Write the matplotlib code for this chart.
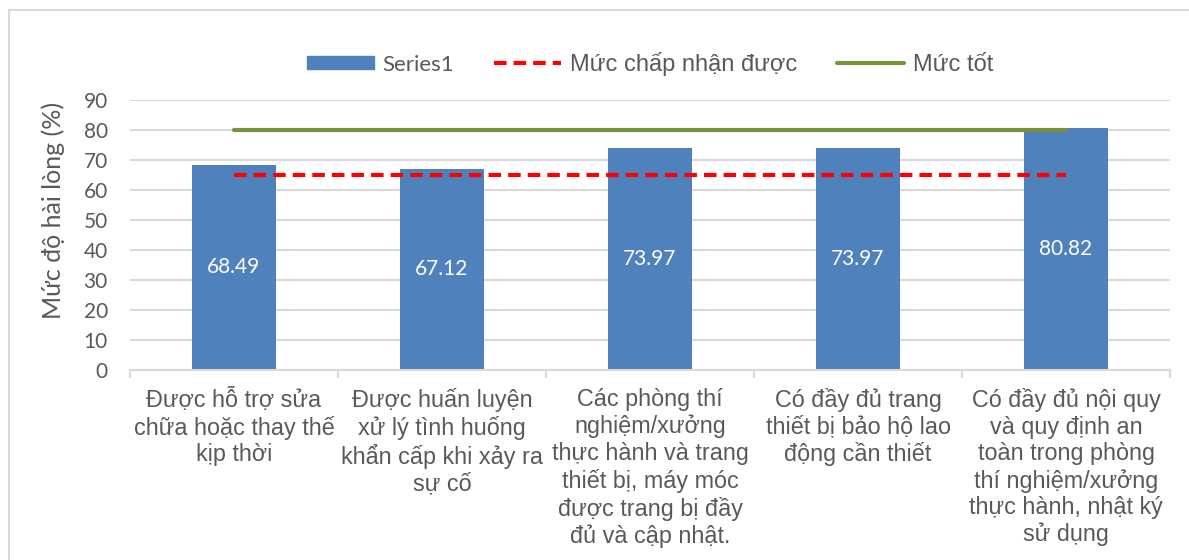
import matplotlib
matplotlib.use('Agg')
import matplotlib.pyplot as plt
from matplotlib.lines import Line2D

# ─── Data ─────────────────────────────────────────────────────────────────────
categories = [
    "Được hỗ trợ sửa\nchữa hoặc thay thế\nkịp thời",
    "Được huấn luyện\nxử lý tình huống\nkhẩn cấp khi xảy ra\nsự cố",
    "Các phòng thí\nnghiệm/xưởng\nthực hành và trang\nthiết bị, máy móc\nđược trang bị đầy\nđủ và cập nhật.",
    "Có đầy đủ trang\nthiết bị bảo hộ lao\nđộng cần thiết",
    "Có đầy đủ nội quy\nvà quy định an\ntoàn trong phòng\nthí nghiệm/xưởng\nthực hành, nhật ký\nsử dụng",
]
series1 = [68.49, 67.12, 73.97, 73.97, 80.82]
acceptable = [65, 65, 65, 65, 65]
good = [80, 80, 80, 80, 80]
y_ticks = [0, 10, 20, 30, 40, 50, 60, 70, 80, 90]

# ─── Style ────────────────────────────────────────────────────────────────────
C_BAR = "#4F81BD"
C_RED = "#FF0000"
C_GREEN = "#77933C"
C_GRID = "#D9D9D9"
C_TEXT = "#595959"
CAL = "Lato"
ARIAL = "Liberation Sans"
W, H = 1189, 560

fig = plt.figure(figsize=(W / 100, H / 100), dpi=100)
ax = fig.add_axes([130 / W, 1 - 370 / H, 1040 / W, 270 / H])

x = list(range(len(categories)))
ax.bar(x, series1, width=0.4, color=C_BAR, zorder=2)
ax.plot(x, acceptable, color=C_RED, lw=3, linestyle=(0, (3, 1.7)),
        solid_capstyle='butt', zorder=3)
ax.plot(x, good, color=C_GREEN, lw=3, solid_capstyle='round', zorder=3)

for xi, v in zip(x, series1):
    ax.text(xi, v / 2, f"{v:.2f}", ha='center', va='center', color='white',
            fontsize=15, fontfamily=CAL, zorder=4)

ax.set_xlim(-0.5, 4.5)
ax.set_ylim(0, 90)
ax.set_yticks(y_ticks)
ax.tick_params(axis='y', length=0, labelsize=15, labelcolor=C_TEXT, pad=16)
for lab in ax.get_yticklabels():
    lab.set_fontfamily(CAL)
ax.grid(axis='y', color=C_GRID, lw=1.5, zorder=0)
ax.set_axisbelow(True)

ax.set_xticks(x)
ax.set_xticklabels(categories, fontsize=16.8, fontfamily=ARIAL, color=C_TEXT,
                   linespacing=1.2, va='top')
ax.tick_params(axis='x', which='major', length=0, pad=13)
ax.set_xticks([i - 0.5 for i in range(len(categories) + 1)], minor=True)
ax.tick_params(axis='x', which='minor', length=6, width=1.5, color=C_GRID,
               direction='out')

for s in ['top', 'right', 'left']:
    ax.spines[s].set_visible(False)
ax.spines['bottom'].set_color(C_GRID)
ax.spines['bottom'].set_linewidth(1.5)

ax.set_ylabel("Mức độ hài lòng (%)", fontsize=18, fontfamily=CAL,
              color=C_TEXT, va='center', ha='center')
ax.yaxis.set_label_coords(53 / W, 1 - 210 / H, transform=fig.transFigure)

handles = [
    plt.Rectangle((0, 0), 1, 1, color=C_BAR),
    Line2D([0], [0], color=C_RED, lw=3, linestyle=(0, (3, 1.7))),
    Line2D([0], [0], color=C_GREEN, lw=3, solid_capstyle='round'),
]
leg = ax.legend(handles, ["Series1", "Mức chấp nhận được", "Mức tốt"],
                loc='center', bbox_to_anchor=(0.5, 1.135), ncol=3,
                frameon=False, fontsize=16, handlelength=3.0,
                handleheight=0.55, handletextpad=0.4, columnspacing=1.8)
for t in leg.get_texts():
    t.set_color(C_TEXT)
    t.set_fontfamily(ARIAL)
    t.set_fontsize(17)
leg.get_texts()[0].set_fontfamily(CAL)
leg.get_texts()[0].set_fontsize(16)

# chart area border (left and top edges visible)
fig.add_artist(Line2D([9 / W, 9 / W], [0, 1 - 10 / H],
                      color=C_GRID, lw=1.5, transform=fig.transFigure))
fig.add_artist(Line2D([9 / W, 1], [1 - 10 / H, 1 - 10 / H],
                      color=C_GRID, lw=1.5, transform=fig.transFigure))

fig.savefig("out.png", dpi=100, facecolor='white')
